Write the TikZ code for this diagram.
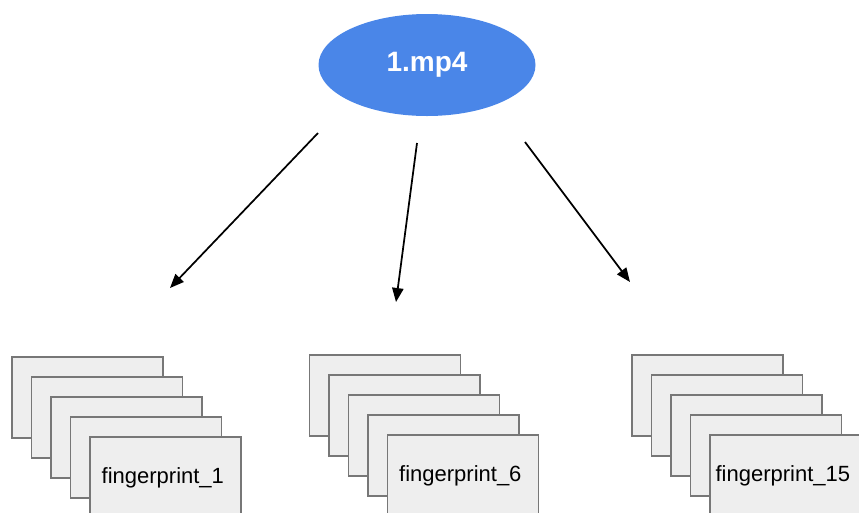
\documentclass[tikz,border=0pt]{standalone}
\usepackage{fontspec}
\setmainfont{Liberation Sans}
\usepackage{xcolor}
\usepackage{tikz}
\usetikzlibrary{positioning,arrows.meta,shapes.geometric}
\definecolor{videoblue}{HTML}{4A86E8}
\definecolor{cardfill}{HTML}{EEEEEE}
\definecolor{cardline}{HTML}{777777}

\begin{document}
\begin{tikzpicture}[x=0.75pt, y=-0.75pt, video/.style={ellipse, fill=videoblue, minimum width=162.75pt, minimum height=76.5pt, inner sep=0pt, text=white, font=\fontsize{21}{25}\selectfont\bfseries}, card/.style={draw=cardline, fill=cardfill, line width=0.8pt, minimum width=113.25pt, minimum height=60.75pt, inner sep=0pt, font=\fontsize{16.5}{20}\selectfont}, arrow/.style={-{Triangle[length=10.5pt,width=8.5pt]}, draw=black, line width=1.3pt}]
\useasboundingbox (0,0) rectangle (859,512);
\clip (0,0) rectangle (859,512);
\node[video] (mp4) at (427,65) {1.mp4};
\foreach \name/\x/\y/\idx in {a/87.5/397.5/1, b/385/395.5/6, c/707.5/395.5/15} {
  \foreach \k in {0,...,3} {
    \node[card] (\name\k) at (\x+19.5*\k, \y+20*\k) {};
  }
  \node[card] (\name4) at (\x+78, \y+80) {\raisebox{-2pt}{fingerprint\_\idx}\hspace*{4pt}};
}
\coordinate (taila) at (318,133);
\coordinate (tailb) at (417,143);
\coordinate (tailc) at (525,142);
\coordinate (tipa) at (170,288);
\coordinate (tipb) at (396,302);
\coordinate (tipc) at (630,282);
\draw[arrow] (taila) -- (tipa);
\draw[arrow] (tailb) -- (tipb);
\draw[arrow] (tailc) -- (tipc);
\end{tikzpicture}
\end{document}
